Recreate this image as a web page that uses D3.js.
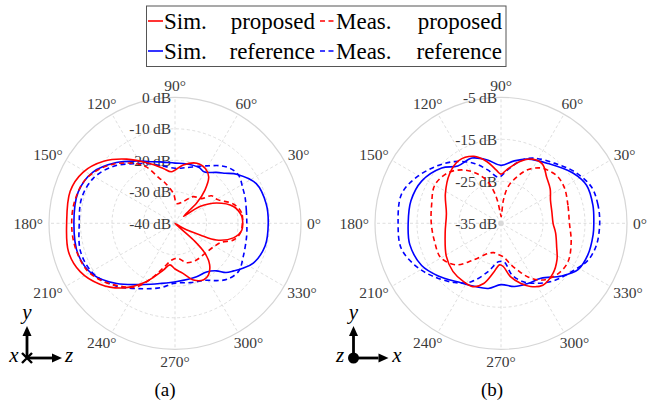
<!DOCTYPE html>
<html>
<head>
<meta charset="utf-8">
<script src="https://cdn.jsdelivr.net/npm/d3@7"></script>
<style>
  body { margin: 0; background: #fff; }
  svg text { font-family: "Liberation Serif", "DejaVu Serif", serif; }
</style>
</head>
<body>
<svg id="chart" width="655" height="407"></svg>
<script>
// ---------- data (angle in degrees, level in dB) ----------
const angleTicks = d3.range(0, 360, 30);

const ticksA = [-40, -30, -20, -10, 0];
const ticksB = [-35, -25, -15, -5];

// (a) pattern
const simPropA = [[0,-18.5],[6,-18.7],[16,-20.7],[26,-25.3],[34,-30.5],[39,-36.5],[43,-30.6],[48,-25.8],[54,-21.8],[61,-20.1],[70,-19.7],[82,-21.3],[94,-23.6],[102,-22.2],[113,-19.4],[127,-14.5],[139,-10],[151,-6.6],[163,-5.2],[180,-5.6],[195,-5],[207,-6.2],[219,-9.3],[231,-13.6],[243,-19],[256,-24.7],[263,-26.7],[270,-25.5],[279,-23.9],[288,-21.1],[297,-19.9],[303,-20.5],[310,-22.9],[315,-26.5],[318,-32.1],[324,-40],[329,-36.9],[335,-31.2],[338,-25.8],[346,-20.9],[354,-18.7]];
const measPropA = [[0,-18.6],[9,-18.6],[18,-20.4],[29,-24.5],[37,-25.5],[43,-28.5],[56,-29.8],[69,-32.6],[85,-33.7],[93,-30.5],[105,-26.3],[109,-24.9],[117,-19.9],[124,-17.1],[138,-12.3],[153,-8.5],[167,-7.4],[180,-7.2],[193,-7.4],[208,-8.3],[219,-10.7],[231,-14.1],[239,-16.5],[247,-21],[255,-25.2],[265,-28.3],[275,-28.8],[286,-27],[299,-26.5],[315,-26.5],[330,-25.5],[338,-24],[344,-20.7],[351,-19.1]];
const simRefA = [[0,-10.4],[12,-10.4],[26,-11.3],[38,-14.8],[45,-17.5],[51,-19.2],[60,-21.2],[67,-20.7],[80,-20.8],[90,-20.9],[104,-19.9],[112,-18.9],[122,-16.7],[134,-13.2],[148,-9.3],[162,-7.7],[180,-7.9],[198,-7.7],[212,-9.3],[226,-13.4],[243,-18.2],[256,-20.3],[272,-21.5],[292,-21.7],[303,-21.6],[311,-20],[316,-17.5],[321,-16],[326,-14.3],[333,-12.1],[346,-10.5]];
const measRefA = [[0,-17.2],[10,-17],[20,-16.3],[27,-15.8],[37,-14.7],[45,-15.3],[52,-16.8],[59,-18.7],[67,-20.3],[80,-22.1],[90,-22.5],[104,-21.1],[114,-19.3],[123,-17.4],[137,-13.4],[151,-10.4],[165,-9.3],[180,-9.6],[197,-8.7],[212,-9.6],[227,-12.7],[244,-16.9],[257,-19],[270,-21],[285,-20.5],[298,-19.5],[306,-17.5],[313,-15.7],[323,-14.7],[334,-15.9],[350,-16.9]];

// (b) pattern
const simPropB = [[0,-22.6],[12,-22.6],[25,-22],[35,-20.7],[45,-19.6],[55,-17.8],[64,-18],[73,-19.6],[84,-22.2],[90,-23.3],[95,-22.3],[103,-19.9],[112,-17.8],[124,-17],[136,-18],[152,-20],[170,-21.8],[190,-21.5],[211,-19.8],[225,-18.8],[237,-18.5],[246,-18.5],[254,-20.1],[261,-23],[268,-25.1],[273,-24.7],[280,-22.1],[288,-20],[295,-18.4],[304,-17.2],[316,-17.8],[327,-19.1],[337,-20.6],[350,-21.8]];
const measPropB = [[0,-18.7],[15,-18.5],[29,-17.7],[39,-17.5],[47,-18],[55,-18.9],[64,-20.9],[71,-23.3],[79,-26.1],[84,-29.4],[89,-33.4],[94,-32.5],[99,-29.5],[103,-27],[108,-24.4],[116,-21.8],[125,-19.5],[136,-17.6],[150,-16.8],[165,-17.9],[180,-18.4],[195,-18.6],[210,-18.5],[223,-20.5],[233,-24.1],[247,-27.2],[256,-27.8],[266,-27.5],[274,-27],[283,-25],[290,-23],[297,-20.6],[306,-18.3],[318,-16.9],[330,-16.6],[345,-17.7]];
const simRefB = [[0,-12.9],[11,-12.7],[24,-12.7],[35,-14.1],[52,-16.9],[67,-18.4],[78,-19.8],[90,-21.2],[102,-19.6],[114,-18],[127,-17.9],[137,-15.7],[152,-13.6],[166,-12.9],[180,-12.9],[193,-12.7],[208,-13.6],[220,-15.5],[234,-17.7],[247,-18.7],[259,-19.2],[270,-20.4],[282,-19.6],[294,-19.3],[306,-18.8],[319,-15.9],[329,-13.6],[340,-13],[353,-12.9]];
const measRefB = [[0,-11.5],[11,-11.5],[22,-11.8],[35,-13.6],[48,-15.8],[63,-17.6],[72,-19.2],[83,-22.2],[93,-24],[104,-21.9],[114,-19.4],[127,-16.6],[140,-14.2],[153,-11.8],[164,-10.3],[180,-10.5],[194,-10.5],[206,-12.2],[217,-14.3],[232,-17.1],[243,-19.4],[255,-23.1],[266,-25.8],[275,-25.7],[282,-22.4],[291,-20.1],[300,-18.5],[312,-16.5],[328,-14.2],[337,-12.5],[347,-11.7]];

const legendNames = [["Sim.", "proposed"], ["Meas.", "proposed"], ["Sim.", "reference"], ["Meas.", "reference"]];

// ---------- setup ----------
const svg = d3.select("#chart");
const R = 126;
const RED = "#ff0000", BLUE = "#0000ff";
const GRID = "#d6d6d6";
const SERIF = "'Liberation Serif', 'DejaVu Serif', serif";

// angle in degrees (ccw from east) -> d3 radial angle (cw from north)
const angle = d3.scaleLinear().domain([0, 360]).range([Math.PI / 2, Math.PI / 2 - 2 * Math.PI]);

const plots = [
  { cx: 175, cy: 223.3, ticks: ticksA, capX: 165, caption: "(a)",
    series: [[simRefA, BLUE, false], [measRefA, BLUE, true], [simPropA, RED, false], [measPropA, RED, true]] },
  { cx: 501, cy: 223.3, ticks: ticksB, capX: 492, caption: "(b)", dot: true,
    series: [[simRefB, BLUE, false], [measRefB, BLUE, true], [simPropB, RED, false], [measPropB, RED, true]] }
];

plots.forEach((p) => {
  const r = d3.scaleLinear().domain(d3.extent(p.ticks)).range([0, R]).clamp(true);
  const g = svg.append("g").attr("transform", "translate(" + p.cx + "," + p.cy + ")");

  // grid: spokes
  g.selectAll("line.spoke")
    .data(angleTicks)
    .enter()
    .append("line")
    .attr("x1", 0).attr("y1", 0)
    .attr("x2", (a) => R * Math.sin(angle(a)))
    .attr("y2", (a) => -R * Math.cos(angle(a)))
    .attr("stroke", GRID).attr("stroke-width", 0.8).attr("stroke-dasharray", "3,2.5");

  // grid: rings
  const inner = p.ticks.slice(1, -1);
  g.selectAll("circle.ring")
    .data(inner)
    .enter()
    .append("circle")
    .attr("r", (d) => r(d))
    .attr("fill", "none")
    .attr("stroke", GRID).attr("stroke-width", 0.8).attr("stroke-dasharray", "3,2.5");
  g.append("circle").attr("r", R).attr("fill", "none").attr("stroke", GRID).attr("stroke-width", 1.2);
  if (p.dot) g.append("circle").attr("r", 2.6).attr("fill", "#d9d9d9");

  // radial tick labels
  g.selectAll("text.rt")
    .data(p.ticks)
    .enter()
    .append("text")
    .attr("x", -4)
    .attr("y", (d) => -r(d))
    .attr("dy", "0.35em")
    .attr("text-anchor", "end")
    .attr("font-family", SERIF)
    .attr("font-size", 15.5)
    .attr("fill", "#3a3a3a")
    .text((d) => d + "\u2009dB");

  // angle labels: box edge facing the centre sits just outside the rim
  g.selectAll("text.at")
    .data(angleTicks)
    .enter()
    .append("text")
    .attr("dy", "0.35em")
    .attr("text-anchor", "middle")
    .attr("font-family", SERIF)
    .attr("font-size", 15.5)
    .attr("fill", "#3a3a3a")
    .text((a) => a + "\u00b0")
    .each(function (a) {
      const w = this.getComputedTextLength();
      const c = Math.cos(a * Math.PI / 180), s = Math.sin(a * Math.PI / 180);
      d3.select(this)
        .attr("x", 132 * c + c * w / 2)
        .attr("y", -132 * s - s * 6);
    });

  // curves
  const line = d3.lineRadial()
    .angle((d) => angle(d[0]))
    .radius((d) => r(d[1]))
    .curve(d3.curveCatmullRomClosed.alpha(0.5));

  p.series.forEach(([data, color, dashed]) => {
    g.append("path")
      .datum(data)
      .attr("d", line)
      .attr("fill", "none")
      .attr("stroke", color)
      .attr("stroke-width", 1.6)
      .attr("stroke-dasharray", dashed ? "5,3.5" : null);
  });

  svg.append("text")
    .attr("x", p.capX).attr("y", 396)
    .attr("text-anchor", "middle")
    .attr("font-family", SERIF)
    .attr("font-size", 19)
    .text(p.caption);
});

// ---------- legend ----------
const leg = svg.append("g");
leg.append("rect")
  .attr("x", 146.5).attr("y", 6).attr("width", 359.5).attr("height", 60.5)
  .attr("fill", "#fff").attr("stroke", "#555").attr("stroke-width", 1);

const legPos = [
  { x: 148, y: 21, color: RED, dashed: false },
  { x: 320, y: 21, color: RED, dashed: true },
  { x: 148, y: 51, color: BLUE, dashed: false },
  { x: 320, y: 51, color: BLUE, dashed: true }
];
legendNames.forEach((n, i) => {
  const q = legPos[i];
  leg.append("line")
    .attr("x1", q.x).attr("x2", q.x + 15).attr("y1", q.y).attr("y2", q.y)
    .attr("stroke", q.color).attr("stroke-width", 1.6)
    .attr("stroke-dasharray", q.dashed ? "5,3.5" : null);
  leg.append("text")
    .attr("x", q.x + 16).attr("y", q.y + 7.5)
    .attr("font-family", SERIF)
    .attr("font-size", 23)
    .text(n[0]);
  leg.append("text")
    .attr("x", q.x + (q.dashed ? 182 : 167)).attr("y", q.y + 7.5)
    .attr("text-anchor", "end")
    .attr("font-family", SERIF)
    .attr("font-size", 23)
    .text(n[1]);
});

// ---------- coordinate icons ----------
function arrow(x1, y1, x2, y2) {
  const a = Math.atan2(y2 - y1, x2 - x1);
  const L = 10, W = 4.5;
  const bx = x2 - L * Math.cos(a), by = y2 - L * Math.sin(a);
  svg.append("line")
    .attr("x1", x1).attr("y1", y1).attr("x2", bx).attr("y2", by)
    .attr("stroke", "#000").attr("stroke-width", 2.8);
  svg.append("path")
    .attr("d", "M" + x2 + "," + y2 +
      "L" + (bx + W * Math.sin(a)) + "," + (by - W * Math.cos(a)) +
      "L" + (bx - W * Math.sin(a)) + "," + (by + W * Math.cos(a)) + "Z")
    .attr("fill", "#000");
}
function axisLabel(x, y, t) {
  svg.append("text")
    .attr("x", x).attr("y", y).attr("dy", "0.3em")
    .attr("text-anchor", "middle")
    .attr("font-family", SERIF)
    .attr("font-size", 21).attr("font-style", "italic")
    .text(t);
}

// (a): x into page, y up, z right
arrow(27, 358, 27, 326);
arrow(27, 358, 62, 358);
svg.append("path").attr("d", "M22,353L32,363M22,363L32,353").attr("stroke", "#000").attr("stroke-width", 2.4);
axisLabel(27, 313, "y");
axisLabel(14, 356, "x");
axisLabel(69, 356, "z");

// (b): z out of page, y up, x right
arrow(353.5, 358, 353.5, 326);
arrow(353.5, 358, 388.5, 358);
svg.append("circle").attr("cx", 353.5).attr("cy", 358).attr("r", 5.5).attr("fill", "#000");
axisLabel(353.5, 313, "y");
axisLabel(340, 356, "z");
axisLabel(397, 356, "x");
</script>
</body>
</html>
